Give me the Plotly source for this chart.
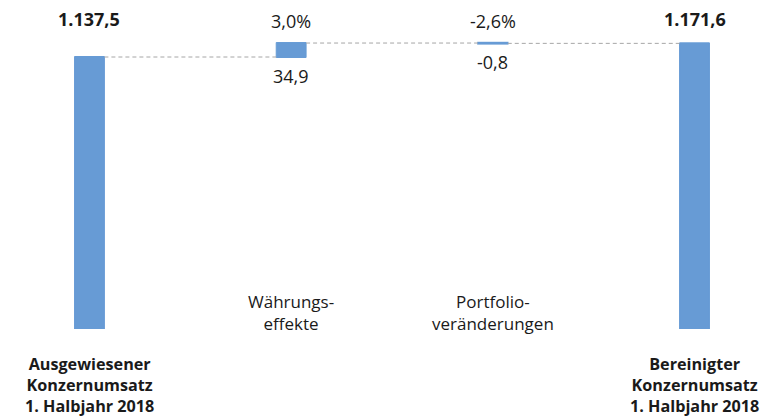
import plotly.graph_objects as go

# ---- data ----
categories = ["Ausgewiesener<br>Konzernumsatz<br>1. Halbjahr 2018",
              "Währungs-<br>effekte",
              "Portfolio-<br>veränderungen",
              "Bereinigter<br>Konzernumsatz<br>1. Halbjahr 2018"]
measures = ["absolute", "relative", "relative", "total"]
values = [1137.5, 34.9, -0.8, 1171.6]
pct_labels = ["", "3,0%", "-2,6%", ""]

# ---- style ----
BAR = "#679BD5"
TXT = "#1a1a1a"
FONT = "Open Sans"
PLOT_H = 321  # plot area height in px (figure coords)


def de(v):
    s = f"{abs(v):,.1f}".replace(",", "X").replace(".", ",").replace("X", ".")
    return ("-" if v < 0 else "") + s


def py(p):
    return (PLOT_H - p) / PLOT_H


xs = list(range(len(categories)))

fig = go.Figure(go.Waterfall(
    x=xs, y=values, measure=measures,
    width=0.148,
    increasing=dict(marker=dict(color=BAR, line=dict(color=BAR, width=1))),
    decreasing=dict(marker=dict(color=BAR, line=dict(color=BAR, width=1.5))),
    totals=dict(marker=dict(color=BAR, line=dict(color=BAR, width=1))),
    connector=dict(line=dict(color="#A6A6A6", width=1, dash="4px,3px")),
    hoverinfo="skip",
))

ann = []
cum = []
run = 0
for m, v in zip(measures, values):
    if m == "absolute":
        start, run = 0, v
    elif m == "relative":
        start, run = run, run + v
    else:
        start, run = 0, v
    cum.append((start, run))

for i, (cat, m, v, pct) in enumerate(zip(categories, measures, values, pct_labels)):
    if m in ("absolute", "total"):
        ann.append(dict(x=i, y=py(11.5), xref="x", yref="paper", text=f"<b>{de(v)}</b>",
                        showarrow=False, yanchor="middle", font=dict(size=18, color=TXT, family=FONT)))
        ann.append(dict(x=i, y=py(377), xref="x", yref="paper", text=f"<b>{cat}</b>",
                        showarrow=False, yanchor="middle", font=dict(size=16.2, color=TXT, family=FONT)))
    else:
        ann.append(dict(x=i, y=py(13.5), xref="x", yref="paper", text=pct,
                        showarrow=False, yanchor="middle", font=dict(size=18, color=TXT, family=FONT)))
        ann.append(dict(x=i, y=min(cum[i]), xref="x", yref="y", text=de(v),
                        showarrow=False, yanchor="middle", yshift=-19,
                        font=dict(size=18, color=TXT, family=FONT)))
        ann.append(dict(x=i, y=py(304.3), xref="x", yref="paper", text=cat,
                        showarrow=False, yanchor="middle", font=dict(size=17, color=TXT, family=FONT)))

fig.update_layout(
    width=769, height=416,
    margin=dict(l=0, r=0, t=0, b=416 - PLOT_H),
    paper_bgcolor="white", plot_bgcolor="white",
    showlegend=False,
    xaxis=dict(range=[-0.404, 3.409], showticklabels=False, showgrid=False,
               zeroline=False, showline=False, ticks=""),
    yaxis=dict(range=[457.5, 1260], showticklabels=False, showgrid=False,
               zeroline=False, showline=False, ticks=""),
    annotations=ann,
    font=dict(family=FONT, color=TXT),
)

fig.write_html("out.html")
